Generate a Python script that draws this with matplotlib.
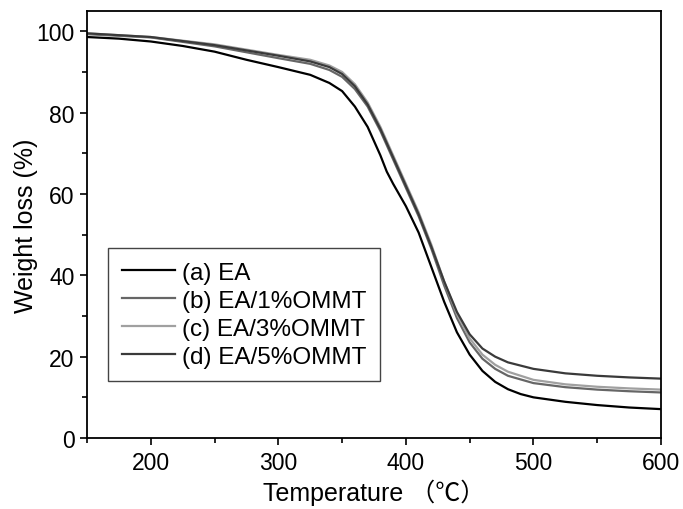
import matplotlib
matplotlib.use("Agg")
import matplotlib.pyplot as plt
from matplotlib.ticker import MultipleLocator

plt.rcParams['font.family'] = ['Liberation Sans', 'Noto Sans CJK SC', 'DejaVu Sans']

# temperature (C) and weight (%)
temp_a = [150, 175, 200, 225, 250, 275, 300, 325, 340, 350, 360, 370, 380, 385, 390,
          400, 410, 420, 430, 440, 450, 460, 470, 480, 490, 500, 525, 550, 575, 600]
weight_a = [98.6, 98.2, 97.5, 96.4, 95.0, 93.0, 91.2, 89.3, 87.3, 85.3, 81.5, 76.5, 69.5, 65.5, 62.5,
            57.0, 50.5, 42.0, 33.5, 26.0, 20.5, 16.5, 13.8, 12.0, 10.8, 10.0, 8.9, 8.1, 7.5, 7.1]

temp = [150, 200, 250, 300, 325, 340, 350, 360, 370, 380, 390, 400, 410, 420, 430,
        440, 450, 460, 470, 480, 500, 525, 550, 575, 600]
weight_b = [99.3, 98.5, 96.3, 93.4, 92.0, 90.5, 88.8, 85.8, 81.5, 75.5, 68.5, 61.5, 54.5, 46.5, 37.5,
            29.5, 23.5, 19.5, 17.0, 15.3, 13.5, 12.5, 11.9, 11.5, 11.2]
weight_c = [99.5, 98.6, 96.8, 94.2, 93.0, 91.6, 90.0, 87.0, 82.5, 76.5, 69.5, 62.5, 55.5, 47.5, 38.5,
            30.5, 24.5, 20.5, 18.0, 16.3, 14.3, 13.2, 12.6, 12.2, 11.9]
weight_d = [99.5, 98.6, 96.6, 94.0, 92.6, 91.2, 89.5, 86.5, 82.0, 76.0, 69.0, 62.0, 55.0, 47.0, 38.5,
            31.0, 25.5, 22.0, 20.0, 18.6, 17.0, 15.9, 15.3, 14.9, 14.6]

labels = ["(a) EA", "(b) EA/1%OMMT", "(c) EA/3%OMMT", "(d) EA/5%OMMT"]
colors = ["#000000", "#666666", "#a0a0a0", "#3a3a3a"]


def main():
    fig = plt.figure(figsize=(6.83, 5.10), dpi=100)
    ax = fig.add_axes([0.1274, 0.1392, 0.8404, 0.8373])

    series = [(temp_a, weight_a), (temp, weight_b), (temp, weight_c), (temp, weight_d)]
    for (x, y), label, color in zip(series, labels, colors):
        ax.plot(x, y, color=color, lw=1.6, label=label)

    ax.set_xlim(150, 600)
    ax.set_ylim(0, 105)
    ax.xaxis.set_major_locator(MultipleLocator(100))
    ax.xaxis.set_minor_locator(MultipleLocator(50))
    ax.yaxis.set_major_locator(MultipleLocator(20))
    ax.yaxis.set_minor_locator(MultipleLocator(10))
    ax.tick_params(which='both', direction='out', top=False, right=False, labelsize=16.5, width=1.2)
    ax.tick_params(which='major', length=5, pad=4)
    ax.tick_params(which='minor', length=3.5)
    for spine in ax.spines.values():
        spine.set_linewidth(1.3)

    ax.set_xlabel("Temperature （℃）", fontsize=18, labelpad=4)
    ax.set_ylabel("Weight loss (%)", fontsize=18, labelpad=-1)

    leg = ax.legend(loc='lower left', bbox_to_anchor=(0.037, 0.133), borderaxespad=0,
                    fontsize=17.5, handlelength=2.2, handletextpad=0.3, labelspacing=0.25,
                    fancybox=False, edgecolor='#444444', framealpha=1, borderpad=0.55)
    leg.get_frame().set_linewidth(1.0)

    fig.savefig("out.png", dpi=100)


if __name__ == "__main__":
    main()
